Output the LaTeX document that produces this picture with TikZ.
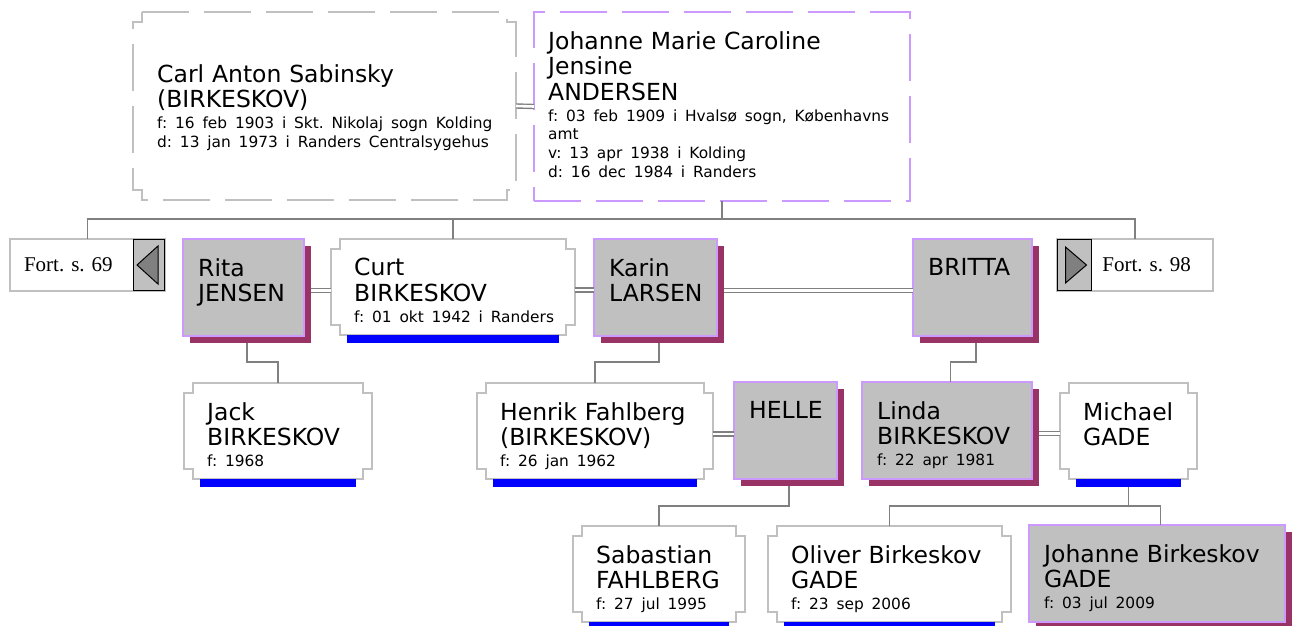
\documentclass[tikz,border=0pt]{standalone}
\usepackage{fontspec}
\usetikzlibrary{shadows}

\newfontfamily\dejavu{DejaVu Sans}
\newfontfamily\libserif{Liberation Serif}
\newcommand\nmfont{\dejavu\fontsize{23.5}{25.5}\selectfont}
\newcommand\dtfont{\dejavu\fontsize{15.4}{18.7}\selectfont}
\newcommand\lifedates[1]{\par\vspace{2.3pt}{\dtfont #1\par}}
\frenchspacing

\definecolor{lav}{HTML}{CC99FF}
\definecolor{plum}{HTML}{993366}
\definecolor{boxgrey}{HTML}{C0C0C0}
\definecolor{linegrey}{HTML}{808080}

% ramme med indhakkede hjoerner
\newcommand\notchframe[2][kid frame]{%
  \draw[#1] ([xshift=9pt]#2.north west) -- ([xshift=-9pt]#2.north east) -- ++(0,10) -- ++(9,0)
    -- ([yshift=10pt]#2.south east) -- ++(-9,0) -- ++(0,10) -- ([xshift=9pt]#2.south west)
    -- ++(0,-10) -- ++(-9,0) -- ([yshift=-10pt]#2.north west) -- ++(9,0) -- cycle;}
\newcommand\bluebar[1]{\fill[bar] ([xshift=16pt]#1.south west) rectangle ([xshift=-16pt,yshift=-8pt]#1.south east);}

\begin{document}
\begin{tikzpicture}[
    x=1pt, y=-1pt,
    lbl/.style={anchor=north west, inner sep=0pt, text width=420pt, align=left, font=\nmfont, text=black},
    box/.style={anchor=north west, inner sep=0pt, outer sep=0pt, minimum height=96pt},
    kid/.style={box, label={[lbl, xshift=23pt, yshift=-19pt]north west:{#1}}},
    mate/.style={box, minimum height=97pt, fill=boxgrey, draw=lav, line width=1.5pt,
        drop shadow={shadow xshift=7pt, shadow yshift=-7pt, fill=plum, opacity=1},
        label={[lbl, xshift=15pt, yshift=-19pt]north west:{#1}}},
    kid frame/.style={draw=boxgrey, line width=2pt},
    top dash/.style={line width=1.5pt, dash pattern=on 47pt off 15pt},
    bar/.style={fill=blue},
    conn/.style={draw=linegrey, line width=1.8pt},
    wed/.style={draw=linegrey, double=white, double distance=2.6pt, line width=1.4pt},
    fort/.style={anchor=north west, draw=boxgrey, line width=2pt, fill=white, minimum height=52pt,
        inner ysep=0pt, outer sep=0pt, font=\libserif\fontsize{21}{24}\selectfont},
    btn/.style={anchor=north west, draw=black, line width=1pt, fill=boxgrey, minimum height=51pt,
        inner sep=0pt, outer sep=0pt},
    tri/.style={fill=linegrey, draw=black, line width=1pt}
]
\useasboundingbox (0,0) rectangle (1296,626);

% foraeldre
\node[box, minimum width=383pt, minimum height=188pt,
    label={[lbl, xshift=24pt, yshift=-52pt]north west:{Carl Anton Sabinsky\\(BIRKESKOV)\lifedates{f: 16 feb 1903 i Skt. Nikolaj sogn Kolding\\d: 13 jan 1973 i Randers Centralsygehus}}}] (carl) at (133,12) {};
\node[box, minimum width=376pt, minimum height=189pt, draw=lav, top dash,
    label={[lbl, xshift=14pt, yshift=-19pt]north west:{Johanne Marie Caroline\\Jensine\\ANDERSEN\lifedates{f: 03 feb 1909 i Hvalsø sogn, Københavns\\amt\\v: 13 apr 1938 i Kolding\\d: 16 dec 1984 i Randers}}}] (johanne) at (534,12) {};
\notchframe[kid frame, top dash]{carl}

% boern
\node[fort, text width=127pt, inner xsep=14pt, align=left] (fort69) at (10,239) {Fort. s. 69};
\node[btn, minimum width=31pt] (btn69) at (133,239.5) {};
\node[mate={Rita\\JENSEN}, minimum width=121pt] (rita) at (183,239) {};
\node[kid={Curt\\BIRKESKOV\lifedates{f: 01 okt 1942 i Randers}}, minimum width=244pt] (curt) at (331,239) {};
\node[mate={Karin\\LARSEN}, minimum width=123pt] (karin) at (594,239) {};
\node[mate={BRITTA}, minimum width=119pt] (britta) at (913,239) {};
\node[fort, text width=112pt, inner xsep=22pt, align=right] (fort98) at (1057,239) {Fort. s. 98};
\node[btn, minimum width=34pt] (btn98) at (1057.5,239.5) {};

\draw[tri] ([xshift=4pt]btn69.west) -- ([xshift=-6pt,yshift=19pt]btn69.east) -- ([xshift=-6pt,yshift=-19pt]btn69.east) -- cycle;
\draw[tri] ([xshift=-5pt]btn98.east) -- ([xshift=8pt,yshift=18pt]btn98.west) -- ([xshift=8pt,yshift=-18pt]btn98.west) -- cycle;

% boerneboern
\node[kid={Jack\\BIRKESKOV\lifedates{f: 1968}}, minimum width=188pt] (jack) at (184,383) {};
\node[kid={Henrik Fahlberg\\(BIRKESKOV)\lifedates{f: 26 jan 1962}}, minimum width=236pt] (henrik) at (477,383) {};
\node[mate={HELLE}, minimum width=103pt] (helle) at (734,382) {};
\node[mate={Linda\\BIRKESKOV\lifedates{f: 22 apr 1981}}, minimum width=170pt] (linda) at (862,382) {};
\node[kid={Michael\\GADE}, minimum width=137pt] (michael) at (1060,383) {};

% oldeboern
\node[kid={Sabastian\\FAHLBERG\lifedates{f: 27 jul 1995}}, minimum width=172pt] (sabastian) at (573,526) {};
\node[kid={Oliver Birkeskov\\GADE\lifedates{f: 23 sep 2006}}, minimum width=243pt] (oliver) at (768,526) {};
\node[mate={Johanne Birkeskov\\GADE\lifedates{f: 03 jul 2009}}, minimum width=256pt] (johanneg) at (1029,525) {};

\foreach \n in {curt,jack,henrik,michael,sabastian,oliver} {\notchframe{\n} \bluebar{\n}}

% forbindelser
\draw[wed] (carl.east) -- (johanne.west);
\coordinate (fam0) at ([yshift=-18pt]johanne.south);
\draw[conn] (johanne.south) -- (fam0);
\draw[conn] (fort69.north) |- (fam0) -| (fort98.north);
\draw[conn] (curt.north) -- (curt.north |- fam0);

\draw[wed] ([xshift=7pt,yshift=-3pt]rita.east) -- ([yshift=-3pt]rita.east -| curt.west);
\draw[wed] ([yshift=-3pt]curt.east) -- ([yshift=-3pt]curt.east -| karin.west);
\draw[wed] ([xshift=7pt,yshift=-3pt]karin.east) -- ([yshift=-3pt]karin.east -| britta.west);

\draw[conn] ([xshift=3.5pt,yshift=-7pt]rita.south) -- ++(0,19) -| (jack.north);
\draw[conn] ([xshift=3.5pt,yshift=-7pt]karin.south) -- ++(0,19) -| (henrik.north);
\draw[conn] ([xshift=3.5pt,yshift=-7pt]britta.south) -- ++(0,19) -| ([xshift=3.5pt]linda.north);

\draw[wed] ([yshift=-3pt]henrik.east) -- ([yshift=-3pt]henrik.east -| helle.west);
\draw[wed] ([xshift=7pt,yshift=-3pt]linda.east) -- ([yshift=-3pt]linda.east -| michael.west);

\draw[conn] ([xshift=3.5pt,yshift=-7pt]helle.south) -- ++(0,20) -| (sabastian.north);
\coordinate (fam3) at ([yshift=-27pt]michael.south);
\draw[conn] ([yshift=-8pt]michael.south) -- (fam3);
\draw[conn] (oliver.north) |- (fam3) -| ([xshift=3.5pt]johanneg.north);

\end{tikzpicture}
\end{document}
